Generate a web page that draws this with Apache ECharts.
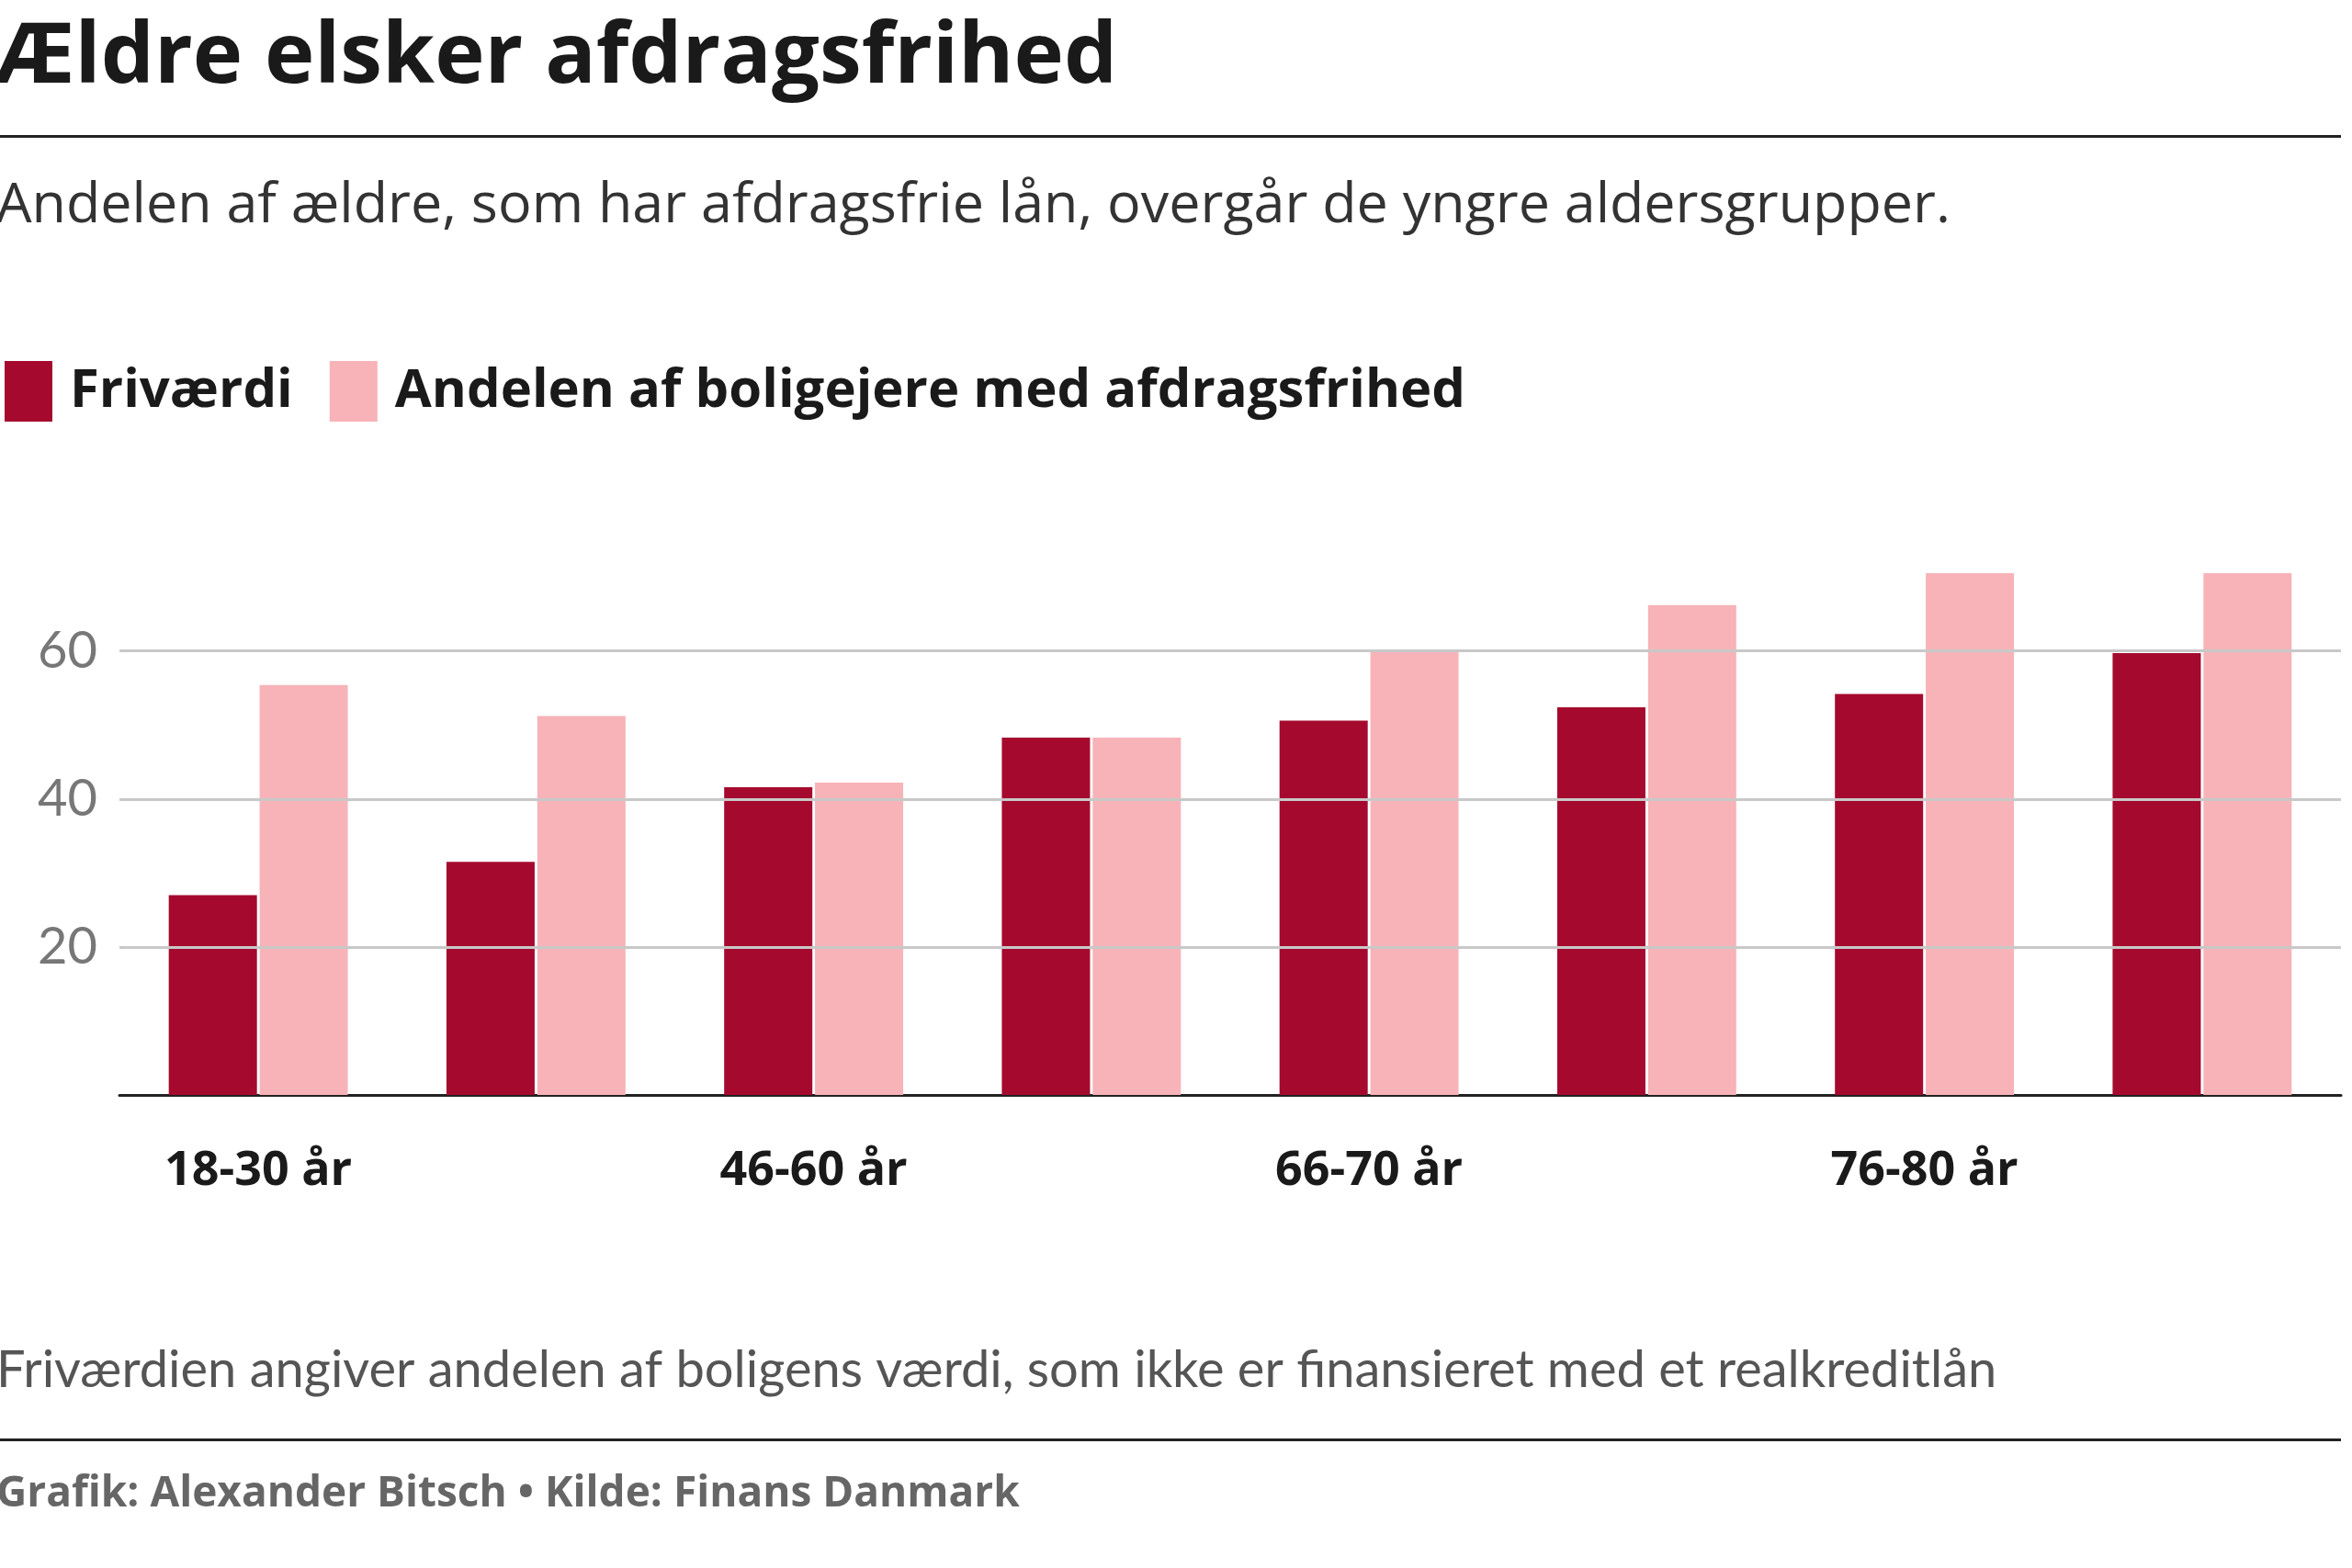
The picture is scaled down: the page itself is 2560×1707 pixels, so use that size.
<!DOCTYPE html>
<html><head><meta charset="utf-8">
<script src="https://cdn.jsdelivr.net/npm/echarts@6/dist/echarts.min.js"></script>
<style>html,body{margin:0;padding:0;background:#fff}#c{width:2560px;height:1707px}</style>
</head><body><div id="c"></div>
<script>
const categories = ['18-30 år','31-45 år','46-60 år','61-65 år','66-70 år','71-75 år','76-80 år','81 år eller\nderover'];
const friVaerdi = [27, 31.5, 41.6, 48.3, 50.6, 52.4, 54.2, 59.7];
const afdragsfri = [55.4, 51.2, 42.2, 48.3, 60, 66.2, 70.5, 70.5];
const yTicks = [20, 40, 60];
const F = 'Lato, "Open Sans", sans-serif';
const O = '"Open Sans", Lato, sans-serif';
const chart = echarts.init(document.getElementById('c'));
chart.setOption({
  animation: false,
  graphic: [
    {type:'text', left:-6, top:18, style:{text:'Ældre elsker afdragsfrihed', font:'bold 92px '+O, fill:'#1a1a1a'}},
    {type:'rect', shape:{x:0,y:147,width:2548,height:3}, style:{fill:'#222'}},
    {type:'text', left:-4, top:194, style:{text:'Andelen af ældre, som har afdragsfrie lån, overgår de yngre aldersgrupper.', font:'61px '+O, fill:'#333'}},
    {type:'text', left:-4, top:1464, style:{text:'Friværdien angiver andelen af boligens værdi, som ikke er finansieret med et realkreditlån', font:'56px '+F, fill:'#555'}},
    {type:'rect', shape:{x:0,y:1566,width:2548,height:3}, style:{fill:'#222'}},
    {type:'text', left:-4, top:1604, style:{text:'Grafik: Alexander Bitsch • Kilde: Finans Danmark', font:'bold 46px '+O, fill:'#666'}}
  ],
  legend: {left:0, top:388, itemWidth:52, itemHeight:66, itemGap:40, icon:'rect',
    textStyle:{fontFamily:O, fontWeight:'bold', fontSize:58, color:'#1a1a1a', padding:[0,0,0,14]}},
  grid: {left:130, right:12, top:612, bottom:515},
  xAxis: {type:'category', data:categories,
    axisLine:{lineStyle:{color:'#222', width:3}}, axisTick:{show:false},
    axisLabel:{fontFamily:O, fontWeight:'bold', fontSize:52, color:'#1a1a1a', margin:50, lineHeight:66}},
  yAxis: {type:'value', min:0, max:72, interval:20, splitLine:{show:false},
    axisLabel:{fontFamily:F, fontSize:56, color:'#777', margin:24,
      formatter: v => yTicks.includes(v) ? String(v) : ''}},
  series: [
    {name:'Friværdi', type:'bar', data:friVaerdi, barWidth:96, barGap:'3%', itemStyle:{color:'#a50a2e'},
     markLine:{silent:true, symbol:'none', label:{show:false}, lineStyle:{color:'#c8c8c8', type:'solid', width:3},
       data: yTicks.map(v=>({yAxis:v}))}, z:3},
    {name:'Andelen af boligejere med afdragsfrihed', type:'bar', data:afdragsfri, barWidth:96, itemStyle:{color:'#f7b3b8'}, z:3}
  ]
});
</script></body></html>
